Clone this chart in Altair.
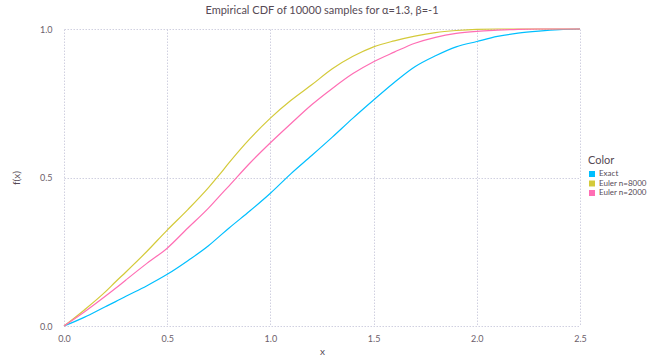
import altair as alt
import pandas as pd

xs = [0.0, 0.1, 0.2, 0.25, 0.3, 0.4, 0.5, 0.6, 0.7, 0.75, 0.8, 0.9, 1.0, 1.1, 1.2, 1.3, 1.4, 1.5,
      1.6, 1.7, 1.8, 1.9, 2.0, 2.1, 2.2, 2.3, 2.4, 2.5]
exact = [0.0, 0.03, 0.065, 0.082, 0.10, 0.135, 0.174, 0.22, 0.27, 0.30, 0.33, 0.387, 0.447, 0.513,
         0.574, 0.636, 0.70, 0.761, 0.82, 0.873, 0.91, 0.94, 0.958, 0.975, 0.986, 0.993, 0.998, 1.0]
euler8000 = [0.0, 0.055, 0.115, 0.149, 0.182, 0.25, 0.323, 0.392, 0.466, 0.507, 0.55, 0.63, 0.70, 0.76,
             0.812, 0.866, 0.908, 0.94, 0.96, 0.976, 0.988, 0.995, 0.999, 1.0, 1.0, 1.0, 1.0, 1.0]
euler2000 = [0.0, 0.048, 0.10, 0.127, 0.155, 0.21, 0.262, 0.33, 0.397, 0.435, 0.472, 0.548, 0.617, 0.682,
             0.745, 0.80, 0.85, 0.89, 0.922, 0.952, 0.972, 0.985, 0.992, 0.996, 0.999, 1.0, 1.0, 1.0]

series = ["Exact", "Euler n=8000", "Euler n=2000"]
colors = ["#00BFFF", "#D4CA3A", "#FF6EB4"]

rows = []
for name, vals in zip(series, [exact, euler8000, euler2000]):
    for x, v in zip(xs, vals):
        rows.append({"x": x, "f": v, "Color": name})
df = pd.DataFrame(rows)

font = "Lato"
color_scale = alt.Scale(domain=series, range=colors)
x_enc = alt.X("x:Q", scale=alt.Scale(domain=[0, 2.5], nice=False),
              axis=alt.Axis(values=[0, 0.5, 1.0, 1.5, 2.0, 2.5], format=".1f", title="x",
                            labelFlush=False, labelPadding=8, titlePadding=3))
y_enc = alt.Y("f:Q", scale=alt.Scale(domain=[0, 1], nice=False),
              axis=alt.Axis(values=[0, 0.5, 1.0], format=".1f", title="f(x)",
                            labelPadding=12, titlePadding=18))

lines = alt.Chart(df).mark_line(strokeWidth=1.2, interpolate="monotone").encode(
    x=x_enc, y=y_enc,
    color=alt.Color("Color:N", scale=color_scale, sort=series, legend=None),
    detail="Color:N",
)

keys = alt.Chart(df).mark_square(opacity=0, size=1, filled=True).encode(
    x=x_enc, y=y_enc,
    color=alt.Color("Color:N", scale=color_scale, sort=series,
                    legend=alt.Legend(title="Color", orient="none", legendX=524, legendY=126,
                                      symbolType="square", symbolSize=36, symbolStrokeWidth=0,
                                      symbolOpacity=1,
                                      labelFontSize=8, titleFontSize=11, labelFont=font,
                                      titleFont=font, labelColor="#564A55", titleColor="#564A55",
                                      titleFontWeight="normal", rowPadding=1.5, titlePadding=4,
                                      labelOffset=3)),
)

chart = alt.layer(lines, keys).resolve_legend(color="independent").properties(
    width=516, height=297,
    title=alt.TitleParams("Empirical CDF of 10000 samples for α=1.3, β=-1", fontSize=11,
                          font=font, color="#564A55", fontWeight="normal", offset=9),
    autosize=alt.AutoSizeParams(type="none"),
    padding={"left": 64, "top": 29, "right": 82, "bottom": 31},
).configure_axis(
    domain=False, ticks=False, grid=True, gridColor="#D0D0E0", gridDash=[1.5, 1.5],
    gridWidth=1, labelFont=font, titleFont=font, labelFontSize=9, titleFontSize=10,
    labelColor="#6C606B", titleColor="#564A55", titleFontWeight="normal",
).configure_view(stroke=None)

chart.save("out.html", embed_options={"renderer": "svg", "actions": False})
